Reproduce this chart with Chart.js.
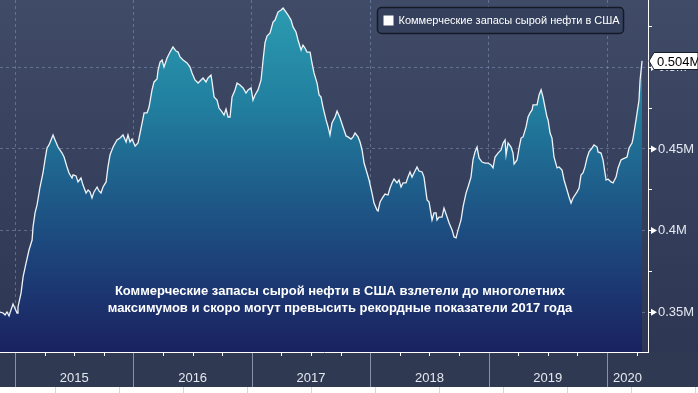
<!DOCTYPE html>
<html>
<head>
<meta charset="utf-8">
<script src="https://cdn.jsdelivr.net/npm/chart.js@4.4.1/dist/chart.umd.min.js"></script>
<style>
  html, body { margin: 0; padding: 0; background: #fff; }
  #wrap { width: 698px; height: 393px; }
</style>
</head>
<body>
<div id="wrap"><canvas id="chart" width="698" height="393"></canvas></div>
<script>
// US commercial crude stocks (weekly)
const seriesLabel = "Коммерческие запасы сырой нефти в США";
const note = [
  "Коммерческие запасы сырой нефти в США взлетели до многолетних",
  "максимумов и скоро могут превысить рекордные показатели 2017 года"
];

const dates = [
  2014.873, 2014.899, 2014.916, 2014.932, 2014.949, 2014.983, 2015.017, 2015.025, 2015.051, 2015.068,
  2015.093, 2015.118, 2015.144, 2015.152, 2015.169, 2015.186, 2015.211, 2015.236, 2015.253, 2015.270,
  2015.287, 2015.304, 2015.321, 2015.338, 2015.363, 2015.397, 2015.414, 2015.439, 2015.456, 2015.481,
  2015.490, 2015.515, 2015.532, 2015.557, 2015.574, 2015.600, 2015.617, 2015.633, 2015.650, 2015.667,
  2015.693, 2015.709, 2015.726, 2015.743, 2015.769, 2015.785, 2015.802, 2015.828, 2015.861, 2015.887,
  2015.912, 2015.938, 2015.954, 2015.971, 2015.988, 2016.014, 2016.039, 2016.056, 2016.073, 2016.090,
  2016.115, 2016.132, 2016.157, 2016.174, 2016.199, 2016.208, 2016.225, 2016.242, 2016.258, 2016.284,
  2016.309, 2016.334, 2016.360, 2016.377, 2016.394, 2016.419, 2016.453, 2016.478, 2016.495, 2016.520,
  2016.546, 2016.571, 2016.588, 2016.613, 2016.630, 2016.655, 2016.664, 2016.681, 2016.706, 2016.723,
  2016.748, 2016.765, 2016.782, 2016.799, 2016.816, 2016.833, 2016.858, 2016.875, 2016.900, 2016.926,
  2016.951, 2016.968, 2016.993, 2017.010, 2017.027, 2017.052, 2017.078, 2017.095, 2017.111, 2017.128,
  2017.154, 2017.179, 2017.196, 2017.221, 2017.247, 2017.264, 2017.289, 2017.306, 2017.331, 2017.348,
  2017.373, 2017.390, 2017.416, 2017.432, 2017.449, 2017.466, 2017.492, 2017.508, 2017.525, 2017.551,
  2017.568, 2017.584, 2017.601, 2017.627, 2017.644, 2017.660, 2017.677, 2017.703, 2017.720, 2017.745,
  2017.770, 2017.796, 2017.812, 2017.838, 2017.855, 2017.872, 2017.897, 2017.914, 2017.931, 2017.948,
  2017.973, 2017.990, 2018.015, 2018.032, 2018.057, 2018.066, 2018.083, 2018.108, 2018.125, 2018.150,
  2018.167, 2018.184, 2018.201, 2018.226, 2018.243, 2018.260, 2018.277, 2018.302, 2018.319, 2018.336,
  2018.353, 2018.370, 2018.395, 2018.412, 2018.438, 2018.454, 2018.463, 2018.480, 2018.497, 2018.522,
  2018.539, 2018.556, 2018.564, 2018.581, 2018.606, 2018.623, 2018.649, 2018.666, 2018.691, 2018.708,
  2018.725, 2018.742, 2018.767, 2018.784, 2018.809, 2018.826, 2018.851, 2018.868, 2018.885, 2018.902,
  2018.919, 2018.944, 2018.970, 2018.995, 2019.020, 2019.037, 2019.054, 2019.079, 2019.105, 2019.122,
  2019.139, 2019.147, 2019.164, 2019.189, 2019.206, 2019.215, 2019.240, 2019.257, 2019.274, 2019.291,
  2019.316, 2019.333, 2019.350, 2019.367, 2019.375, 2019.409, 2019.426, 2019.443, 2019.459, 2019.476,
  2019.493, 2019.502, 2019.519, 2019.535, 2019.552, 2019.578, 2019.595, 2019.620, 2019.637, 2019.662,
  2019.679, 2019.696, 2019.713, 2019.747, 2019.764, 2019.780, 2019.797, 2019.814, 2019.831, 2019.848,
  2019.873, 2019.890, 2019.916, 2019.924, 2019.949, 2019.966, 2019.992, 2020.008, 2020.034, 2020.051,
  2020.076, 2020.093, 2020.118, 2020.135, 2020.169, 2020.186, 2020.211, 2020.220, 2020.245, 2020.270,
  2020.279, 2020.296
];

const stocks = [
  0.3501, 0.3495, 0.3483, 0.3501, 0.3477, 0.3550, 0.3495, 0.3532, 0.3618, 0.3716,
  0.3801, 0.3881, 0.3942, 0.4022, 0.4108, 0.4157, 0.4267, 0.4353, 0.4433, 0.4506,
  0.4525, 0.4555, 0.4586, 0.4555, 0.4512, 0.4475, 0.4451, 0.4390, 0.4353, 0.4322,
  0.4341, 0.4335, 0.4298, 0.4322, 0.4279, 0.4230, 0.4249, 0.4237, 0.4200, 0.4237,
  0.4267, 0.4243, 0.4230, 0.4267, 0.4298, 0.4390, 0.4463, 0.4512, 0.4555, 0.4567,
  0.4586, 0.4543, 0.4586, 0.4543, 0.4561, 0.4518, 0.4537, 0.4598, 0.4659, 0.4721,
  0.4721, 0.4757, 0.4862, 0.4911, 0.4929, 0.4984, 0.5033, 0.5045, 0.5002, 0.5058,
  0.5094, 0.5125, 0.5100, 0.5094, 0.5064, 0.5045, 0.5027, 0.5002, 0.4966, 0.4923,
  0.4904, 0.4923, 0.4935, 0.4911, 0.4935, 0.4953, 0.4911, 0.4819, 0.4800, 0.4751,
  0.4727, 0.4708, 0.4745, 0.4696, 0.4696, 0.4819, 0.4862, 0.4904, 0.4892, 0.4874,
  0.4843, 0.4862, 0.4874, 0.4800, 0.4831, 0.4862, 0.4923, 0.5045, 0.5150, 0.5192,
  0.5211, 0.5278, 0.5290, 0.5339, 0.5352, 0.5364, 0.5339, 0.5321, 0.5290, 0.5248,
  0.5217, 0.5168, 0.5107, 0.5137, 0.5119, 0.5094, 0.5094, 0.5027, 0.4966, 0.4904,
  0.4831, 0.4819, 0.4757, 0.4678, 0.4635, 0.4586, 0.4659, 0.4696, 0.4733, 0.4690,
  0.4635, 0.4580, 0.4574, 0.4561, 0.4574, 0.4598, 0.4574, 0.4543, 0.4494, 0.4414,
  0.4353, 0.4310, 0.4230, 0.4169, 0.4126, 0.4120, 0.4175, 0.4206, 0.4224, 0.4218,
  0.4261, 0.4292, 0.4316, 0.4292, 0.4310, 0.4267, 0.4292, 0.4292, 0.4328, 0.4359,
  0.4328, 0.4353, 0.4390, 0.4365, 0.4359, 0.4328, 0.4279, 0.4188, 0.4175, 0.4065,
  0.4108, 0.4108, 0.4065, 0.4083, 0.4083, 0.4138, 0.4083, 0.4047, 0.4004, 0.3961,
  0.3955, 0.4004, 0.4065, 0.4145, 0.4230, 0.4267, 0.4328, 0.4433, 0.4482, 0.4512,
  0.4445, 0.4420, 0.4414, 0.4414, 0.4402, 0.4384, 0.4451, 0.4475, 0.4494, 0.4537,
  0.4555, 0.4463, 0.4537, 0.4512, 0.4475, 0.4408, 0.4433, 0.4506, 0.4567, 0.4574,
  0.4635, 0.4696, 0.4721, 0.4739, 0.4770, 0.4770, 0.4831, 0.4862, 0.4819, 0.4757,
  0.4696, 0.4678, 0.4598, 0.4567, 0.4451, 0.4384, 0.4390, 0.4371, 0.4310, 0.4249,
  0.4206, 0.4169, 0.4200, 0.4237, 0.4261, 0.4341, 0.4353, 0.4390, 0.4445, 0.4482,
  0.4506, 0.4525, 0.4512, 0.4482, 0.4475, 0.4433, 0.4310, 0.4316, 0.4298, 0.4292,
  0.4328, 0.4384, 0.4433, 0.4439, 0.4451, 0.4506, 0.4537, 0.4567, 0.4678, 0.4800,
  0.4923, 0.5040
];

const years = [2015, 2016, 2017, 2018, 2019, 2020];
const yearLabels = ["2015", "2016", "2017", "2018", "2019", "2020"];
const yTickValues = [0.35, 0.375, 0.4, 0.425, 0.45, 0.475, 0.5, 0.525];
const yTickLabels = ["0.35M", "", "0.4M", "", "0.45M", "", "0.5M", ""];
const lastLabel = "0.504M";

const X_MIN = 2014.873, X_MAX = 2020.346;
const Y_MIN = 0.3256, Y_MAX = 0.5413;

const FONT = "'Liberation Sans', Arial, sans-serif";
const GRID = "rgba(130,150,185,0.55)";

const quarterTicks = [];
for (let y = 2015; y <= 2020; y++) for (let q = 0; q < 4; q++) quarterTicks.push(y + q / 4);

function isMajor(v) {
  const i = yTickValues.findIndex(t => Math.abs(t - v) < 1e-6);
  return i >= 0 && yTickLabels[i] !== "";
}

function areaFill(ctx) {
  const chart = ctx.chart;
  const a = chart.chartArea;
  if (!a) return "#1f5a88";
  const g = chart.ctx.createLinearGradient(0, a.top, 0, a.bottom);
  g.addColorStop(0, "#2c9db2");
  g.addColorStop(0.3, "#217f9f");
  g.addColorStop(0.55, "#1e5b89");
  g.addColorStop(0.8, "#1c3a74");
  g.addColorStop(1, "#1a2260");
  return g;
}

// backgrounds behind everything
const bgPlugin = {
  id: "bg",
  beforeDraw(chart) {
    const { ctx, width, height, chartArea: a } = chart;
    ctx.save();
    const g = ctx.createLinearGradient(0, 0, 0, a.bottom);
    g.addColorStop(0, "#404b68");
    g.addColorStop(1, "#2d3652");
    ctx.fillStyle = g;
    ctx.fillRect(0, 0, width, height);
    ctx.fillStyle = "#2f3951";
    ctx.fillRect(0, a.bottom, width, 35);
    ctx.fillStyle = "#ffffff";
    ctx.fillRect(0, a.bottom + 35, width, height - a.bottom - 35);
    ctx.strokeStyle = "#d6d6d6";
    ctx.lineWidth = 1;
    for (let x = 55.5; x < width; x += 64) {
      ctx.beginPath();
      ctx.moveTo(x, a.bottom + 35);
      ctx.lineTo(x, height);
      ctx.stroke();
    }
    ctx.restore();
  }
};

// axis decorations, legend box, note, last value tag
const decoPlugin = {
  id: "deco",
  afterDraw(chart) {
    const { ctx, chartArea: a, scales } = chart;
    const xs = scales.x, ys = scales.y;
    ctx.save();

    // x axis: quarter ticks, year separators, year labels
    ctx.strokeStyle = "#ffffff";
    ctx.lineWidth = 1;
    quarterTicks.forEach(v => {
      if (v <= X_MIN || v >= X_MAX) return;
      const px = Math.round(xs.getPixelForValue(v)) + 0.5;
      ctx.beginPath();
      ctx.moveTo(px, a.bottom);
      ctx.lineTo(px, a.bottom + 4);
      ctx.stroke();
    });
    ctx.strokeStyle = "#8592aa";
    years.forEach(v => {
      const px = Math.round(xs.getPixelForValue(v)) + 0.5;
      ctx.beginPath();
      ctx.moveTo(px, a.bottom + 1);
      ctx.lineTo(px, a.bottom + 35);
      ctx.stroke();
    });
    ctx.fillStyle = "#e4e8f0";
    ctx.font = "13px " + FONT;
    ctx.textAlign = "center";
    ctx.textBaseline = "middle";
    years.forEach((v, i) => {
      const x0 = xs.getPixelForValue(v);
      const x1 = xs.getPixelForValue(Math.min(v + 1, X_MAX));
      ctx.fillText(yearLabels[i], (x0 + x1) / 2, a.bottom + 26);
    });

    // y axis: arrow heads on labelled ticks
    ctx.fillStyle = "#ffffff";
    yTickValues.forEach(v => {
      if (!isMajor(v)) return;
      const py = ys.getPixelForValue(v);
      ctx.beginPath();
      ctx.moveTo(a.right + 3, py - 3.5);
      ctx.lineTo(a.right + 9, py);
      ctx.lineTo(a.right + 3, py + 3.5);
      ctx.closePath();
      ctx.fill();
    });

    // last value tag
    const last = stocks[stocks.length - 1];
    const ly = Math.round(ys.getPixelForValue(last));
    ctx.fillStyle = "#ffffff";
    ctx.strokeStyle = "#1a1f2e";
    ctx.beginPath();
    ctx.moveTo(a.right + 1, ly);
    ctx.lineTo(a.right + 6, ly - 8.5);
    ctx.lineTo(chart.width, ly - 8.5);
    ctx.lineTo(chart.width, ly + 8.5);
    ctx.lineTo(a.right + 6, ly + 8.5);
    ctx.closePath();
    ctx.fill();
    ctx.stroke();
    ctx.fillStyle = "#000000";
    ctx.textAlign = "left";
    ctx.fillText(lastLabel, a.right + 9, ly + 1);

    // legend box
    const lx = 377.5, lyTop = 7.5, lw = 246, lh = 26;
    ctx.fillStyle = "#34405c";
    ctx.strokeStyle = "#161a26";
    ctx.lineWidth = 1.5;
    ctx.beginPath();
    ctx.roundRect(lx, lyTop, lw, lh, 4);
    ctx.fill();
    ctx.stroke();
    ctx.fillStyle = "#ffffff";
    ctx.fillRect(lx + 6, lyTop + 8, 10, 10);
    ctx.font = "11px " + FONT;
    ctx.textAlign = "left";
    ctx.fillText(seriesLabel, lx + 21, lyTop + lh / 2 + 0.5);

    // note
    ctx.font = "bold 13px " + FONT;
    ctx.textAlign = "center";
    ctx.fillStyle = "#ffffff";
    ctx.fillText(note[0], 340, 291);
    ctx.fillText(note[1], 340, 308);

    ctx.restore();
  }
};

new Chart(document.getElementById("chart"), {
  type: "line",
  data: {
    datasets: [{
      label: seriesLabel,
      data: dates.map((d, i) => ({ x: d, y: stocks[i] })),
      borderColor: "#eef3f8",
      borderWidth: 1.3,
      pointRadius: 0,
      tension: 0,
      fill: "start",
      backgroundColor: areaFill
    }]
  },
  options: {
    responsive: false,
    devicePixelRatio: 1,
    animation: false,
    layout: { padding: 0 },
    plugins: { legend: { display: false }, tooltip: { enabled: false } },
    scales: {
      x: {
        type: "linear",
        min: X_MIN,
        max: X_MAX,
        z: 1,
        afterBuildTicks: s => { s.ticks = years.map(v => ({ value: v })); },
        ticks: { display: false },
        grid: { color: GRID, drawTicks: false, lineWidth: 1 },
        border: { display: true, color: "#ffffff", width: 1, dash: [3, 3] },
        afterFit: s => { s.height = 41; s.paddingLeft = 0; s.paddingRight = 0; }
      },
      y: {
        position: "right",
        min: Y_MIN,
        max: Y_MAX,
        z: 1,
        afterBuildTicks: s => { s.ticks = yTickValues.map(v => ({ value: v })); },
        ticks: {
          color: "#e4e8f0",
          font: { family: FONT, size: 13 },
          padding: 6,
          callback: v => {
            const i = yTickValues.findIndex(t => Math.abs(t - v) < 1e-6);
            return i >= 0 ? yTickLabels[i] : "";
          }
        },
        grid: {
          color: c => (c.tick && isMajor(c.tick.value)) ? GRID : "rgba(0,0,0,0)",
          tickColor: "#ffffff",
          tickLength: 4,
          lineWidth: 1
        },
        border: { display: true, color: "#ffffff", width: 1, dash: [3, 3] },
        afterFit: s => { s.width = 50; s.paddingTop = 0; s.paddingBottom = 0; }
      }
    }
  },
  plugins: [bgPlugin, decoPlugin]
});
</script>
</body>
</html>
